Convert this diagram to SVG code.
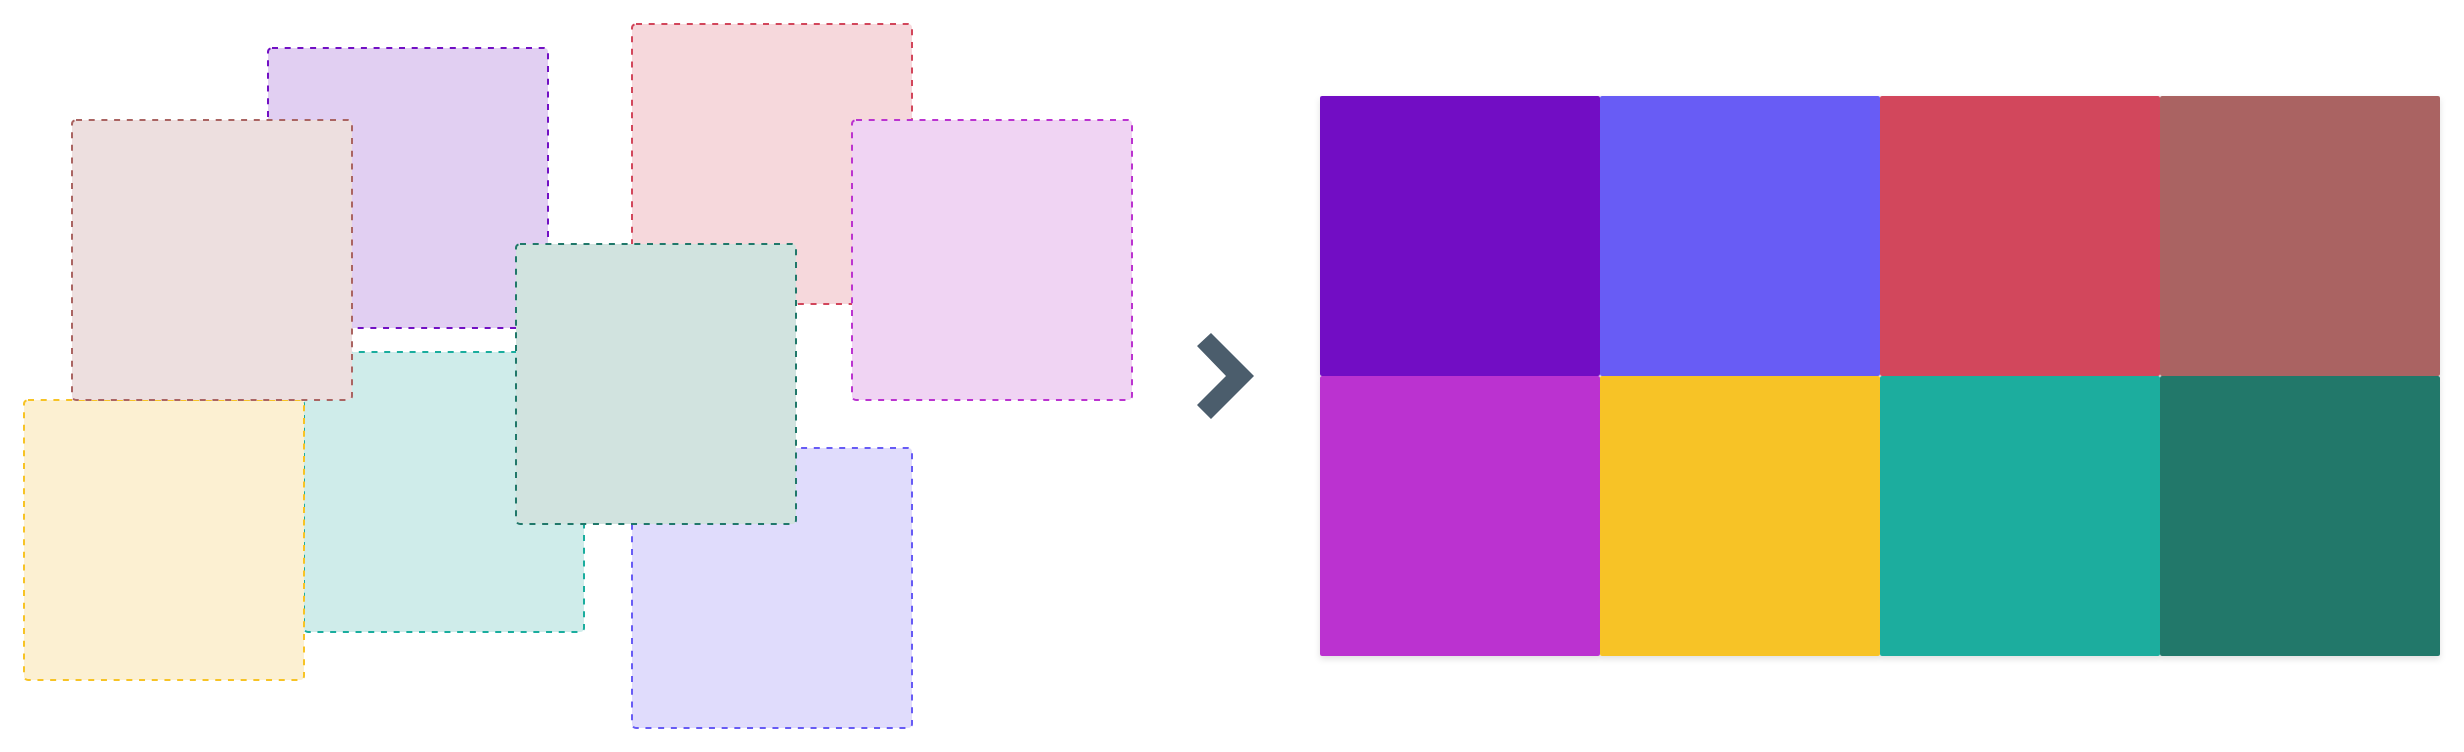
<svg xmlns="http://www.w3.org/2000/svg" width="2464" height="752" viewBox="0 0 2464 752">
<style>
.card{stroke-width:2;stroke-dasharray:6 6.7}
.cell{stroke:none}
</style>
<defs>
<filter id="sh" x="-5%" y="-5%" width="110%" height="115%">
<feDropShadow dx="0" dy="3" stdDeviation="3" flood-color="#000" flood-opacity="0.12"/>
</filter>
</defs>
<rect width="2464" height="752" fill="#ffffff"/>
<g id="scatter">
<g id="card-purple"><rect class="card" x="268" y="48" width="280" height="280" rx="4" fill="#e1cff2" stroke="#7210c4"/></g>
<g id="card-red"><rect class="card" x="632" y="24" width="280" height="280" rx="4" fill="#f6d8dc" stroke="#d2465b"/></g>
<g id="card-magenta"><rect class="card" x="852" y="120" width="280" height="280" rx="4" fill="#f0d4f3" stroke="#bb33d0"/></g>
<g id="card-teal"><rect class="card" x="304" y="352" width="280" height="280" rx="4" fill="#cfecea" stroke="#1aad9e"/></g>
<g id="card-yellow"><rect class="card" x="24" y="400" width="280" height="280" rx="4" fill="#fcf0d2" stroke="#f7c325"/></g>
<g id="card-brown"><rect class="card" x="72" y="120" width="280" height="280" rx="4" fill="#eddfdf" stroke="#aa6462"/></g>
<g id="card-blue"><rect class="card" x="632" y="448" width="280" height="280" rx="4" fill="#e0dcfc" stroke="#675bf5"/></g>
<g id="card-darkteal"><rect class="card" x="516" y="244" width="280" height="280" rx="4" fill="#d1e3df" stroke="#20786a"/></g>
</g>
<g id="connectors">
<polygon id="chevron" points="1197,346 1211,333 1254,376 1211,419 1197,405 1226,376" fill="#4b5d6c"/>
</g>
<g id="grid" filter="url(#sh)">
<g id="cell-1"><rect class="cell" x="1320" y="96" width="280" height="280" rx="2" fill="#7210c4"/></g>
<g id="cell-2"><rect class="cell" x="1600" y="96" width="280" height="280" rx="2" fill="#675bf5"/></g>
<g id="cell-3"><rect class="cell" x="1880" y="96" width="280" height="280" rx="2" fill="#d2465b"/></g>
<g id="cell-4"><rect class="cell" x="2160" y="96" width="280" height="280" rx="2" fill="#aa6462"/></g>
<g id="cell-5"><rect class="cell" x="1320" y="376" width="280" height="280" rx="2" fill="#bb33d0"/></g>
<g id="cell-6"><rect class="cell" x="1600" y="376" width="280" height="280" rx="2" fill="#f7c325"/></g>
<g id="cell-7"><rect class="cell" x="1880" y="376" width="280" height="280" rx="2" fill="#1aad9e"/></g>
<g id="cell-8"><rect class="cell" x="2160" y="376" width="280" height="280" rx="2" fill="#20786a"/></g>
</g>
</svg>
